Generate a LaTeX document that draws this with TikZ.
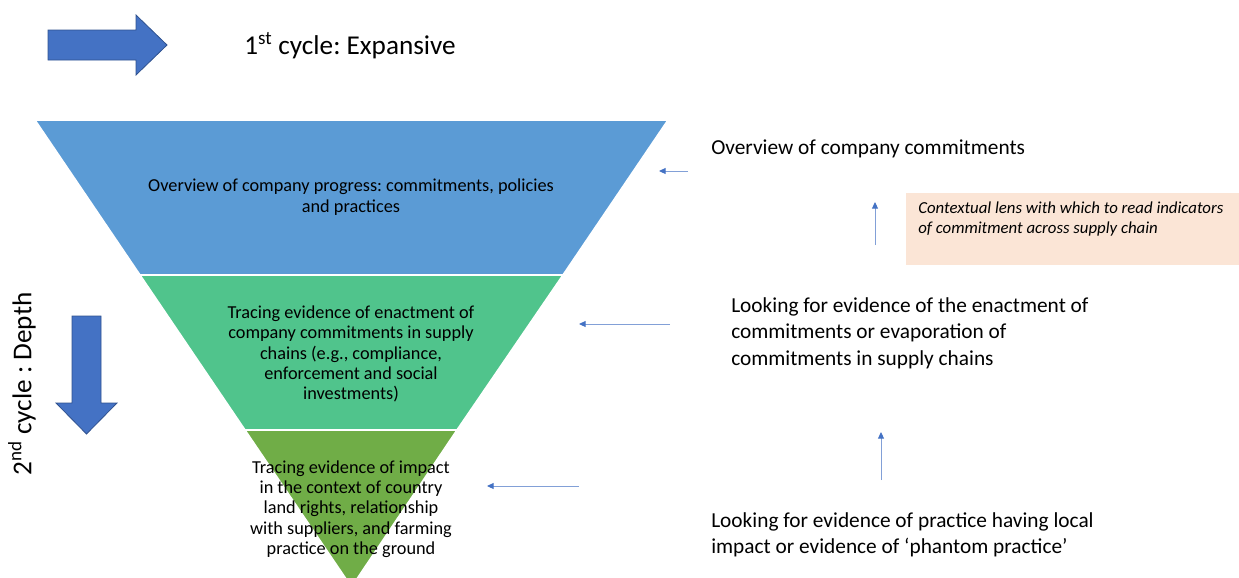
\documentclass[tikz,border=0pt]{standalone}
\usepackage{fontspec}
\setmainfont{Carlito}
\usetikzlibrary{arrows.meta}
\frenchspacing

\definecolor{topblue}{RGB}{91,155,213}
\definecolor{midgreen}{RGB}{80,196,140}
\definecolor{lowgreen}{RGB}{112,173,71}
\definecolor{arrowblue}{RGB}{68,114,196}
\definecolor{darkblue}{RGB}{47,82,143}
\definecolor{lineblue}{RGB}{130,160,215}
\definecolor{peach}{RGB}{251,229,214}

\tikzset{
  band/.style={draw=white,line width=1.2pt},
  bandtext/.style={align=center,font=\fontsize{13.7}{15.2}\selectfont},
  note/.style={anchor=west,align=left,inner xsep=0pt,font=\fontsize{16}{19.9}\selectfont},
  cycletext/.style={font=\fontsize{20.4}{24}\selectfont},
  pointer/.style={draw=lineblue,line width=0.7pt,-{Triangle[length=5pt,width=4.5pt,color=arrowblue]}},
  blockarrow/.style={fill=arrowblue,draw=darkblue,line width=0.6pt},
}

\begin{document}
\begin{tikzpicture}[x=0.75pt,y=-0.75pt]
        \useasboundingbox (0,0) rectangle (1239,578);
        \clip (0,0) rectangle (1239,578);
        % funnel
        \filldraw[band,fill=topblue] (35,120) -- (668,120) -- (563,275) -- (140,275) -- cycle;
        \filldraw[band,fill=midgreen] (140,275) -- (563,275) -- (457,430) -- (245,430) -- cycle;
        \filldraw[band,fill=lowgreen] (245,430) -- (457,430) -- (351.5,587) -- cycle;
        \node[bandtext] (top) at (351,197) {Overview of company progress: commitments, policies\\and practices};
        \node[bandtext] (mid) at (351,354) {Tracing evidence of enactment of\\company commitments in supply\\chains (e.g., compliance,\\enforcement and social\\investments)};
        \node[bandtext] (low) at (351,509) {Tracing evidence of impact\\in the context of country\\land rights, relationship\\with suppliers, and farming\\practice on the ground};
        % cycles
        \draw[blockarrow] (48,30) -- (136,30) -- (136,15) -- (167,45) -- (136,75) -- (136,60) -- (48,60) -- cycle;
        \draw[blockarrow] (72,316) -- (101,316) -- (101,403) -- (117,403) -- (86.5,434) -- (56,403) -- (72,403) -- cycle;
        \node[cycletext,anchor=west,inner xsep=0pt] (first) at (244,46) {1\textsuperscript{st} cycle: Expansive};
        \node[cycletext,rotate=90] (second) at (22,384) {2\textsuperscript{nd} cycle : Depth};
        % right side
        \node[note] (ovc) at (711,149) {Overview of company commitments};
        \node[note] (enact) at (731,333) {Looking for evidence of the enactment of\\commitments or evaporation of\\commitments in supply chains};
        \node[note] (local) at (711,535) {Looking for evidence of practice having local\\impact or evidence of ‘phantom practice’};
        \fill[peach] (906,193) rectangle (1239,265);
        \node[anchor=north west,align=left,inner xsep=0pt,font=\itshape\fontsize{12.6}{15}\selectfont] (lens) at (918,197) {Contextual lens with which to read indicators\\of commitment across supply chain};
        % pointers
        \coordinate (p1a) at (688,171);
        \coordinate (p1b) at (659,171);
        \coordinate (p2a) at (875,245);
        \coordinate (p2b) at (875,202);
        \coordinate (p3a) at (670,324);
        \coordinate (p3b) at (579,324);
        \coordinate (p4a) at (881,480);
        \coordinate (p4b) at (881,432);
        \coordinate (p5a) at (579,486);
        \coordinate (p5b) at (487,486);
        \draw[pointer] (p1a) -- (p1b);
        \draw[pointer] (p2a) -- (p2b);
        \draw[pointer] (p3a) -- (p3b);
        \draw[pointer] (p4a) -- (p4b);
        \draw[pointer] (p5a) -- (p5b);
    \end{tikzpicture}
\end{document}
